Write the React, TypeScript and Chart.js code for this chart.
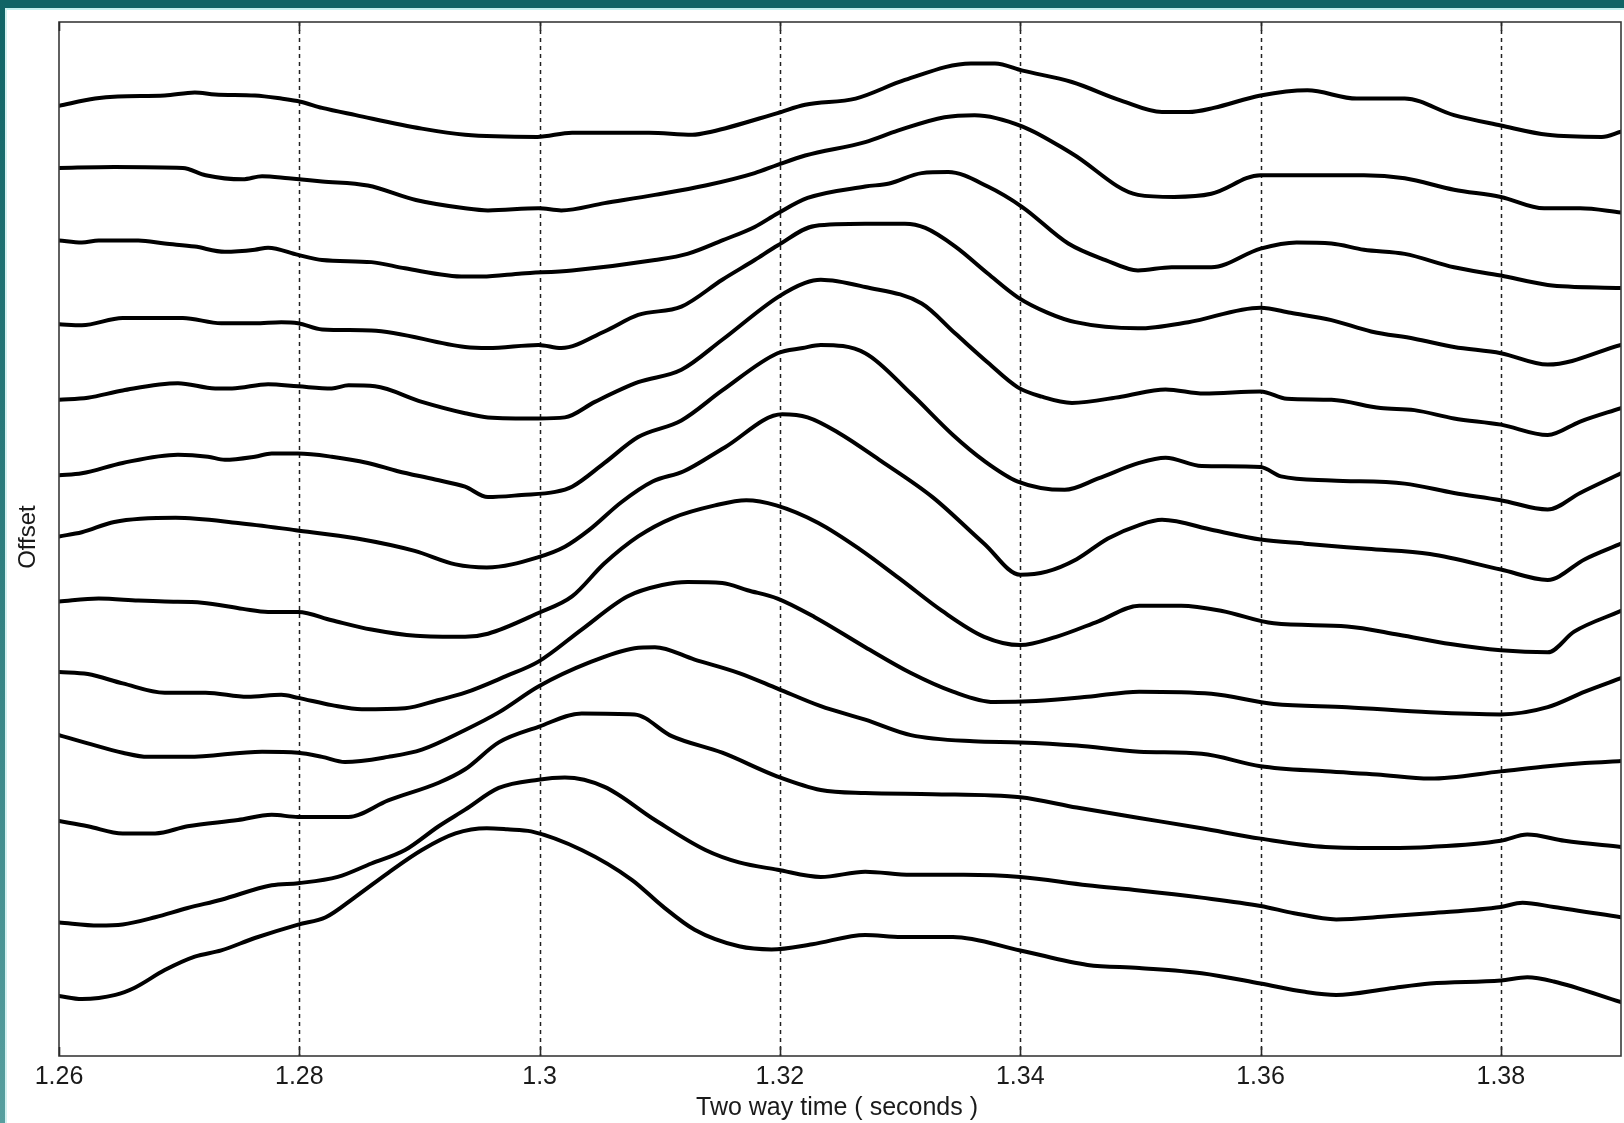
import React, { useEffect, useRef } from 'react';
import { Chart, registerables } from 'chart.js';

Chart.register(...registerables);

// ---- Axis definitions ----
const xMin = 1.26;
const xMax = 1.39;
const yMin = 0;
const yMax = 999;
const xTickValues = [1.26, 1.28, 1.3, 1.32, 1.34, 1.36, 1.38];
const xTickLabels = ['1.26', '1.28', '1.3', '1.32', '1.34', '1.36', '1.38'];
const xTitle = 'Two way time ( seconds )';
const yTitle = 'Offset';

// ---- Traces: [time (s), offset-shifted amplitude] ----
const trace01: [number, number][] = [
  [1.26, 918], [1.263, 925], [1.2649, 927], [1.2688, 928], [1.2713, 931], [1.273, 929], [1.2763, 928],
  [1.2785, 925], [1.2801, 922], [1.2819, 916], [1.2847, 909], [1.2902, 896], [1.2938, 890], [1.2998, 888],
  [1.3027, 892], [1.3091, 892], [1.3127, 890], [1.3143, 893], [1.3198, 911], [1.3221, 919], [1.3263, 925],
  [1.3304, 943], [1.3359, 959], [1.3379, 959], [1.3402, 952], [1.3443, 941], [1.3484, 923], [1.3518, 912],
  [1.354, 912], [1.3561, 916], [1.36, 928], [1.3639, 933], [1.368, 925], [1.372, 925], [1.3761, 909],
  [1.38, 899], [1.3839, 890], [1.3884, 888], [1.39, 893],
];
const trace02: [number, number][] = [
  [1.26, 858], [1.2646, 859], [1.2703, 858], [1.2722, 851], [1.2753, 847], [1.2769, 850], [1.2791, 848],
  [1.2819, 845], [1.2857, 841], [1.2897, 827], [1.2938, 819], [1.2957, 817], [1.2999, 819], [1.3018, 817],
  [1.3054, 824], [1.3096, 832], [1.3138, 841], [1.3179, 853], [1.3198, 861], [1.3221, 870], [1.3271, 883],
  [1.3298, 894], [1.3337, 907], [1.3362, 909], [1.3402, 898], [1.3443, 872], [1.3498, 832], [1.3528, 830],
  [1.3559, 833], [1.36, 851], [1.3645, 851], [1.3686, 851], [1.372, 848], [1.3761, 837], [1.38, 830],
  [1.3836, 819], [1.3866, 819], [1.39, 815],
];
const trace03: [number, number][] = [
  [1.26, 788], [1.2619, 786], [1.2633, 788], [1.2666, 788], [1.2688, 785], [1.2713, 782], [1.2738, 777],
  [1.2763, 779], [1.2774, 781], [1.2799, 774], [1.2819, 769], [1.286, 767], [1.2888, 761], [1.2938, 753],
  [1.2952, 753], [1.2985, 756], [1.3027, 759], [1.3096, 769], [1.3123, 775], [1.3152, 788], [1.3179, 801],
  [1.3198, 814], [1.3223, 829], [1.3271, 840], [1.3291, 843], [1.3318, 853], [1.334, 854], [1.3373, 840],
  [1.3402, 820], [1.344, 785], [1.3471, 769], [1.3498, 759], [1.3526, 762], [1.3559, 762], [1.36, 780],
  [1.363, 786], [1.3659, 785], [1.3686, 779], [1.372, 775], [1.3761, 762], [1.38, 754], [1.3839, 745],
  [1.39, 742],
];
const trace04: [number, number][] = [
  [1.26, 707], [1.2619, 706], [1.2653, 713], [1.2703, 713], [1.2735, 708], [1.2763, 708], [1.2785, 709],
  [1.2799, 708], [1.2819, 702], [1.286, 701], [1.2938, 685], [1.2957, 684], [1.2999, 687], [1.3018, 684],
  [1.3054, 700], [1.3082, 716], [1.3118, 724], [1.3152, 750], [1.3179, 769], [1.3198, 783], [1.3229, 802],
  [1.3271, 804], [1.3304, 804], [1.3321, 800], [1.3346, 782], [1.3373, 756], [1.3398, 733], [1.3423, 718],
  [1.3446, 709], [1.3498, 703], [1.354, 709], [1.36, 723], [1.3625, 718], [1.3659, 711], [1.3692, 700],
  [1.3728, 693], [1.3761, 685], [1.38, 679], [1.3839, 668], [1.39, 687],
];
const trace05: [number, number][] = [
  [1.26, 634], [1.2624, 636], [1.2653, 643], [1.2699, 650], [1.273, 645], [1.2744, 645], [1.2774, 649],
  [1.2799, 647], [1.2827, 645], [1.2841, 648], [1.2863, 647], [1.2902, 632], [1.2938, 621], [1.2957, 617],
  [1.2999, 616], [1.3021, 617], [1.3046, 632], [1.3082, 651], [1.3118, 663], [1.3152, 692], [1.3198, 733],
  [1.3221, 747], [1.3234, 750], [1.3271, 743], [1.3318, 727], [1.3346, 698], [1.3373, 670], [1.3398, 646],
  [1.3418, 637], [1.3443, 631], [1.3484, 637], [1.3521, 644], [1.3553, 640], [1.36, 642], [1.3622, 635],
  [1.3659, 634], [1.37, 626], [1.3728, 624], [1.3761, 616], [1.38, 610], [1.3839, 600], [1.3866, 613],
  [1.39, 626],
];
const trace06: [number, number][] = [
  [1.26, 561], [1.2619, 563], [1.2653, 573], [1.2699, 581], [1.2724, 579], [1.2738, 576], [1.2763, 579],
  [1.2777, 582], [1.2799, 582], [1.2827, 579], [1.2857, 573], [1.2882, 565], [1.2913, 557], [1.2938, 550],
  [1.2957, 540], [1.2985, 542], [1.3013, 545], [1.3027, 550], [1.3054, 573], [1.3082, 598], [1.3118, 614],
  [1.3152, 643], [1.3198, 679], [1.3219, 684], [1.3234, 687], [1.3271, 679], [1.3309, 640], [1.3344, 600],
  [1.337, 575], [1.3398, 555], [1.3437, 547], [1.3465, 558], [1.3499, 573], [1.3521, 578], [1.3551, 570],
  [1.36, 569], [1.3617, 560], [1.3659, 556], [1.372, 553], [1.3761, 544], [1.38, 537], [1.3839, 528],
  [1.3866, 544], [1.39, 563],
];
const trace07: [number, number][] = [
  [1.26, 502], [1.2619, 506], [1.2646, 516], [1.2697, 520], [1.2749, 515], [1.2797, 508], [1.2848, 500],
  [1.2896, 488], [1.293, 475], [1.2956, 472], [1.2999, 482], [1.3021, 492], [1.3041, 508], [1.3068, 535],
  [1.3094, 555], [1.312, 565], [1.3154, 588], [1.3202, 620], [1.3223, 617], [1.3249, 602], [1.3284, 575],
  [1.3327, 540], [1.337, 495], [1.34, 465], [1.3422, 468], [1.3447, 480], [1.3473, 500], [1.3499, 513],
  [1.3518, 518], [1.3561, 508], [1.36, 499], [1.3637, 495], [1.3689, 490], [1.3741, 485], [1.38, 470],
  [1.3839, 460], [1.387, 480], [1.39, 495],
];
const trace08: [number, number][] = [
  [1.26, 439], [1.2633, 442], [1.2666, 440], [1.2688, 439], [1.2719, 438], [1.2753, 432], [1.2774, 429],
  [1.2799, 429], [1.2827, 421], [1.286, 412], [1.2897, 406], [1.2938, 405], [1.2957, 408], [1.2999, 428],
  [1.3027, 444], [1.3054, 476], [1.3082, 502], [1.3111, 520], [1.3146, 532], [1.3172, 537], [1.3197, 532],
  [1.3232, 515], [1.3266, 490], [1.3301, 460], [1.3335, 430], [1.337, 405], [1.34, 397], [1.343, 405],
  [1.3465, 420], [1.3499, 435], [1.3534, 435], [1.3568, 430], [1.3611, 418], [1.3672, 415], [1.3715, 407],
  [1.3758, 398], [1.38, 392], [1.3839, 390], [1.3861, 410], [1.39, 430],
];
const trace09: [number, number][] = [
  [1.26, 371], [1.2624, 369], [1.2653, 360], [1.2688, 351], [1.2722, 351], [1.2757, 347], [1.2785, 349],
  [1.2799, 346], [1.2827, 339], [1.2852, 335], [1.2888, 336], [1.2916, 344], [1.2938, 351], [1.2972, 367],
  [1.2999, 381], [1.3035, 412], [1.3073, 444], [1.3102, 455], [1.3123, 458], [1.3152, 457], [1.3173, 450],
  [1.3198, 442], [1.3229, 424], [1.3271, 395], [1.3309, 370], [1.3344, 352], [1.3378, 342], [1.3413, 343],
  [1.3456, 347], [1.3499, 352], [1.3559, 350], [1.3611, 340], [1.3672, 337], [1.3741, 332], [1.38, 330],
  [1.3839, 337], [1.387, 352], [1.39, 365],
];
const trace10: [number, number][] = [
  [1.26, 310], [1.2624, 302], [1.2653, 293], [1.2674, 289], [1.2707, 289], [1.2769, 294], [1.2799, 293],
  [1.2819, 289], [1.2838, 284], [1.2874, 289], [1.2902, 296], [1.2938, 315], [1.2966, 332], [1.2999, 357],
  [1.3041, 380], [1.3079, 394], [1.3096, 395], [1.3129, 383], [1.3166, 370], [1.3198, 355], [1.3234, 338],
  [1.3271, 325], [1.3309, 310], [1.3361, 304], [1.34, 303], [1.3447, 300], [1.3499, 294], [1.3551, 292],
  [1.36, 280], [1.3654, 275], [1.3697, 272], [1.3741, 268], [1.38, 275], [1.3839, 280], [1.387, 283],
  [1.39, 285],
];
const trace11: [number, number][] = [
  [1.26, 227], [1.2624, 222], [1.2653, 215], [1.268, 215], [1.2707, 222], [1.2749, 228], [1.2777, 233],
  [1.2799, 231], [1.2841, 231], [1.2874, 247], [1.2916, 264], [1.2938, 277], [1.2966, 303], [1.2999, 318],
  [1.3035, 331], [1.3079, 330], [1.311, 309], [1.3152, 293], [1.3198, 270], [1.3234, 257], [1.3271, 254],
  [1.3327, 253], [1.34, 250], [1.3447, 240], [1.3499, 230], [1.3551, 220], [1.36, 210], [1.3654, 202],
  [1.3706, 201], [1.3741, 202], [1.38, 208], [1.3822, 214], [1.3853, 208], [1.39, 202],
];
const trace12: [number, number][] = [
  [1.26, 129], [1.2633, 126], [1.2653, 127], [1.268, 134], [1.2707, 143], [1.2735, 151], [1.2777, 165],
  [1.2799, 167], [1.2832, 173], [1.286, 186], [1.2888, 199], [1.2916, 222], [1.2938, 238], [1.2966, 259],
  [1.2999, 267], [1.3021, 269], [1.3054, 260], [1.3096, 228], [1.3138, 199], [1.3166, 187], [1.3198, 180],
  [1.3234, 173], [1.3271, 178], [1.3309, 175], [1.3353, 175], [1.34, 173], [1.3456, 165], [1.3499, 160],
  [1.3551, 153], [1.36, 145], [1.3628, 138], [1.3663, 132], [1.3706, 135], [1.3741, 138], [1.38, 144],
  [1.3818, 148], [1.3844, 144], [1.39, 134],
];
const trace13: [number, number][] = [
  [1.26, 58], [1.2619, 55], [1.2647, 59], [1.2663, 66], [1.2688, 83], [1.2713, 96], [1.2735, 102],
  [1.2763, 114], [1.2799, 127], [1.2822, 134], [1.2847, 154], [1.2874, 177], [1.2902, 199], [1.293, 215],
  [1.2956, 220], [1.2973, 219], [1.2993, 217], [1.3035, 199], [1.3077, 170], [1.3102, 145], [1.3129, 122],
  [1.3166, 106], [1.3193, 103], [1.3227, 108], [1.3271, 117], [1.3301, 115], [1.3344, 115], [1.34, 102],
  [1.3456, 88], [1.3499, 85], [1.3551, 80], [1.36, 70], [1.3637, 62], [1.3663, 59], [1.3706, 65],
  [1.3741, 70], [1.38, 73], [1.3822, 76], [1.3844, 72], [1.39, 52],
];

const traces = [
  trace01, trace02, trace03, trace04, trace05, trace06, trace07,
  trace08, trace09, trace10, trace11, trace12, trace13,
];

const FONT = '"Liberation Sans", Arial, Helvetica, sans-serif';

const matlabAxesPlugin = {
  id: 'matlabAxes',
  beforeDatasetsDraw(chart: any) {
    const { ctx, chartArea } = chart;
    const xs = chart.scales.x;
    ctx.save();
    ctx.strokeStyle = '#222222';
    ctx.lineWidth = 1.5;
    ctx.setLineDash([4, 4]);
    xTickValues.forEach((v) => {
      const px = Math.round(xs.getPixelForValue(v)) + 0.5;
      if (px < chartArea.left + 3 || px > chartArea.right - 3) return;
      ctx.beginPath();
      ctx.moveTo(px, chartArea.top);
      ctx.lineTo(px, chartArea.bottom);
      ctx.stroke();
    });
    ctx.restore();
  },
  afterDatasetsDraw(chart: any) {
    const { ctx, chartArea } = chart;
    const xs = chart.scales.x;
    ctx.save();
    // box
    ctx.strokeStyle = '#3a3a3a';
    ctx.lineWidth = 1.6;
    ctx.setLineDash([]);
    ctx.strokeRect(chartArea.left, chartArea.top, chartArea.right - chartArea.left, chartArea.bottom - chartArea.top);
    // inward tick marks
    ctx.strokeStyle = '#2a2a2a';
    ctx.lineWidth = 1.6;
    xTickValues.forEach((v) => {
      const px = Math.round(xs.getPixelForValue(v)) + 0.5;
      ctx.beginPath();
      ctx.moveTo(px, chartArea.bottom);
      ctx.lineTo(px, chartArea.bottom - 9);
      ctx.moveTo(px, chartArea.top);
      ctx.lineTo(px, chartArea.top + 9);
      ctx.stroke();
    });
    // tick labels
    ctx.fillStyle = '#1a1a1a';
    ctx.font = `25px ${FONT}`;
    ctx.textAlign = 'center';
    ctx.textBaseline = 'middle';
    xTickValues.forEach((v, i) => {
      ctx.fillText(xTickLabels[i], xs.getPixelForValue(v), chartArea.bottom + 21);
    });
    // x title
    const cx = (chartArea.left + chartArea.right) / 2;
    ctx.fillText(xTitle, cx - 3, chartArea.bottom + 52);
    // y title
    ctx.save();
    ctx.font = `24px ${FONT}`;
    ctx.translate(28, (chartArea.top + chartArea.bottom) / 2 - 2);
    ctx.rotate(-Math.PI / 2);
    ctx.fillText(yTitle, 0, 0);
    ctx.restore();
    ctx.restore();
  },
};

export default function App() {
  const canvasRef = useRef<HTMLCanvasElement | null>(null);

  useEffect(() => {
    const canvas = canvasRef.current;
    if (!canvas) return;
    const chart = new Chart(canvas, {
      type: 'line',
      data: {
        datasets: traces.map((tr, i) => ({
          label: `trace ${i + 1}`,
          data: tr.map(([t, v]) => ({ x: t, y: v })),
          borderColor: '#000000',
          borderWidth: 4,
          pointRadius: 0,
          cubicInterpolationMode: 'monotone' as const,
          fill: false,
          borderJoinStyle: 'round' as const,
          borderCapStyle: 'round' as const,
        })),
      },
      options: {
        responsive: false,
        animation: false,
        devicePixelRatio: 1,
        layout: { padding: { left: 0, top: 22, right: 3, bottom: 0 } },
        plugins: {
          legend: { display: false },
          tooltip: { enabled: false },
        },
        scales: {
          x: {
            type: 'linear',
            min: xMin,
            max: xMax,
            grid: { display: false },
            border: { display: false },
            ticks: { display: false },
            afterBuildTicks: (scale: any) => {
              scale.ticks = xTickValues.map((v) => ({ value: v }));
            },
            afterFit: (scale: any) => {
              scale.height = 67;
            },
          },
          y: {
            type: 'linear',
            min: yMin,
            max: yMax,
            grid: { display: false },
            border: { display: false },
            ticks: { display: false },
            afterFit: (scale: any) => {
              scale.width = 59;
            },
          },
        },
      },
      plugins: [matlabAxesPlugin],
    });
    return () => chart.destroy();
  }, []);

  return (
    <div style={{ position: 'absolute', left: 0, top: 0, width: 1624, height: 1123, background: '#ffffff', overflow: 'hidden' }}>
      <div style={{ position: 'absolute', left: 0, top: 0, width: 1624, height: 8, background: '#106466' }} />
      <div style={{ position: 'absolute', left: 0, top: 8, width: 1624, height: 2, background: '#c4f0ef' }} />
      <div style={{ position: 'absolute', left: 0, top: 0, width: 5, height: 1123, background: 'linear-gradient(#106466, #2f7f80 50%, #579f9f)' }} />
      <div style={{ position: 'absolute', left: 5, top: 8, width: 2, height: 1115, background: '#d2f2f1' }} />
      <canvas ref={canvasRef} width={1624} height={1123} style={{ position: 'absolute', left: 0, top: 0, width: 1624, height: 1123 }} />
    </div>
  );
}
